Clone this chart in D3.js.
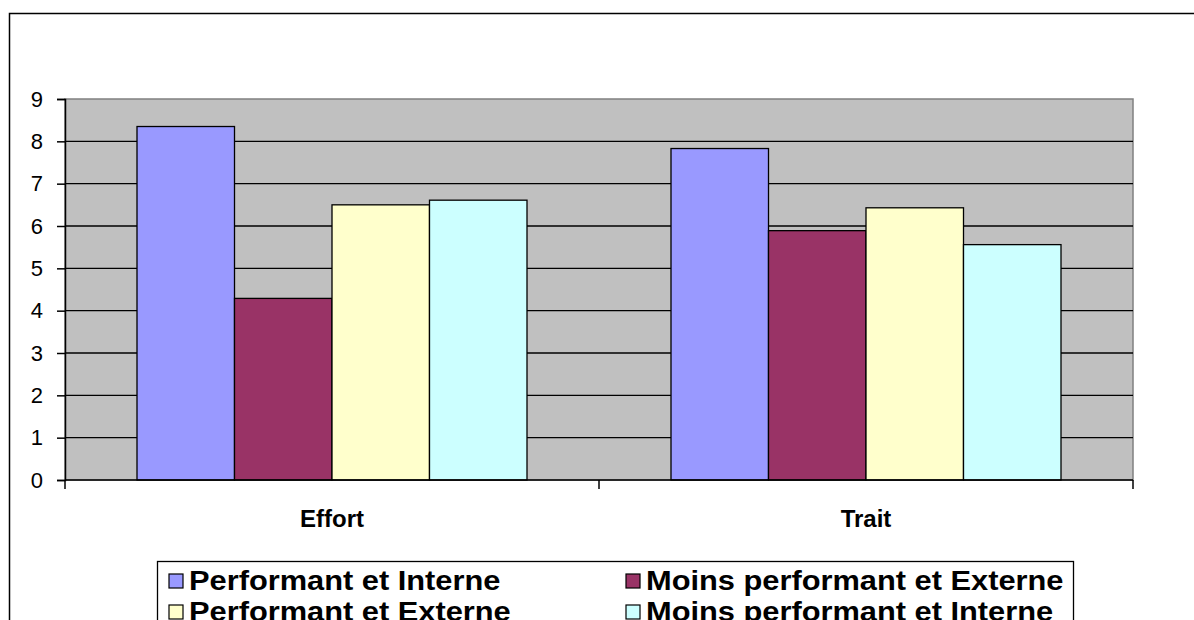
<!DOCTYPE html>
<html lang="fr">
<head>
  <meta charset="UTF-8" />
  <title>Effort / Trait</title>
  <script src="https://d3js.org/d3.v7.min.js"></script>
  <style>
    body { margin: 0; background: #fff; font-family: "Liberation Sans", Arial, sans-serif; }
    svg { display: block; }
  </style>
</head>
<body>
  <svg width="1194" height="620"></svg>
  <script>
    const categories = ["Effort", "Trait"];
    const series = ["Performant et Interne", "Moins performant et Externe", "Performant et Externe", "Moins performant et Interne"];
    const effortValues = [8.35, 4.29, 6.50, 6.61];
    const traitValues = [7.83, 5.89, 6.43, 5.56];
    const yTicks = [0, 1, 2, 3, 4, 5, 6, 7, 8, 9];
    const colors = ["#9999FF", "#993366", "#FFFFCC", "#CCFFFF"];

    const valuesByCat = { "Effort": effortValues, "Trait": traitValues };

    const svg = d3.select("svg");
    const plot = { left: 65, top: 99, right: 1133, bottom: 480 };

    // outer chart frame (runs past the window on right and bottom)
    svg.append("rect")
      .attr("x", 9.5).attr("y", 13.5)
      .attr("width", 1300).attr("height", 700)
      .attr("fill", "#fff").attr("stroke", "#000").attr("stroke-width", 1.5);

    const x0 = d3.scaleBand().domain(categories).range([plot.left, plot.right]);
    const gap = 72;
    const x1 = d3.scaleBand().domain(series).range([gap, x0.bandwidth() - gap]);
    const y = d3.scaleLinear().domain([0, 9]).range([plot.bottom, plot.top]);

    // plot area
    svg.append("rect")
      .attr("x", plot.left).attr("y", plot.top)
      .attr("width", plot.right - plot.left).attr("height", plot.bottom - plot.top)
      .attr("fill", "#C0C0C0").attr("stroke", "#808080").attr("stroke-width", 1.5);

    // gridlines
    svg.append("g")
      .selectAll("line")
      .data(yTicks.filter(d => d > 0 && d < 9))
      .join("line")
      .attr("x1", plot.left).attr("x2", plot.right)
      .attr("y1", d => y(d)).attr("y2", d => y(d))
      .attr("stroke", "#000").attr("stroke-width", 1.3);

    // bars
    svg.append("g")
      .selectAll("g")
      .data(categories)
      .join("g")
      .attr("transform", c => `translate(${x0(c)},0)`)
      .selectAll("rect")
      .data(c => valuesByCat[c].map((v, i) => ({ s: series[i], v, i })))
      .join("rect")
      .attr("x", d => x1(d.s))
      .attr("y", d => y(d.v))
      .attr("width", x1.bandwidth())
      .attr("height", d => y(0) - y(d.v))
      .attr("fill", d => colors[d.i])
      .attr("stroke", "#000").attr("stroke-width", 1.3);

    // y axis
    const yAxis = d3.axisLeft(y).tickValues(yTicks).tickSize(8).tickPadding(14);
    const gy = svg.append("g").attr("transform", `translate(${plot.left},0)`).call(yAxis);
    gy.select(".domain").attr("stroke", "#000").attr("stroke-width", 1.5);
    gy.selectAll(".tick line").attr("stroke", "#000").attr("stroke-width", 1.5);
    gy.selectAll(".tick text")
      .attr("font-family", "'Liberation Sans', Arial, sans-serif")
      .attr("font-size", 22).attr("fill", "#000");

    // x axis
    const xBounds = [plot.left, ...categories.map(c => x0(c) + x0.bandwidth())];
    svg.append("line")
      .attr("x1", plot.left).attr("x2", plot.right)
      .attr("y1", plot.bottom).attr("y2", plot.bottom)
      .attr("stroke", "#000").attr("stroke-width", 1.5);
    svg.append("g")
      .selectAll("line")
      .data(xBounds)
      .join("line")
      .attr("x1", d => d).attr("x2", d => d)
      .attr("y1", plot.bottom).attr("y2", plot.bottom + 9)
      .attr("stroke", "#000").attr("stroke-width", 1.5);
    svg.append("g")
      .selectAll("text")
      .data(categories)
      .join("text")
      .attr("x", c => x0(c) + x0.bandwidth() / 2)
      .attr("y", 527)
      .attr("text-anchor", "middle")
      .attr("font-size", 24).attr("font-weight", "bold")
      .text(c => c);

    // legend
    svg.append("rect")
      .attr("x", 157.5).attr("y", 561.5)
      .attr("width", 916).attr("height", 120)
      .attr("fill", "#fff").attr("stroke", "#000").attr("stroke-width", 1.3);

    const legendCols = [169, 626];
    const legendRows = [574, 605];
    const leg = svg.append("g")
      .selectAll("g")
      .data(series)
      .join("g")
      .attr("transform", (d, i) => `translate(${legendCols[i % 2]},${legendRows[Math.floor(i / 2)]})`);
    leg.append("rect")
      .attr("width", 14).attr("height", 14)
      .attr("fill", (d, i) => colors[i])
      .attr("stroke", "#000").attr("stroke-width", 1.2);
    leg.append("text")
      .attr("transform", "translate(20,16) scale(1.1,1)")
      .attr("font-size", 28).attr("font-weight", "bold")
      .text(d => d);
  </script>
</body>
</html>
